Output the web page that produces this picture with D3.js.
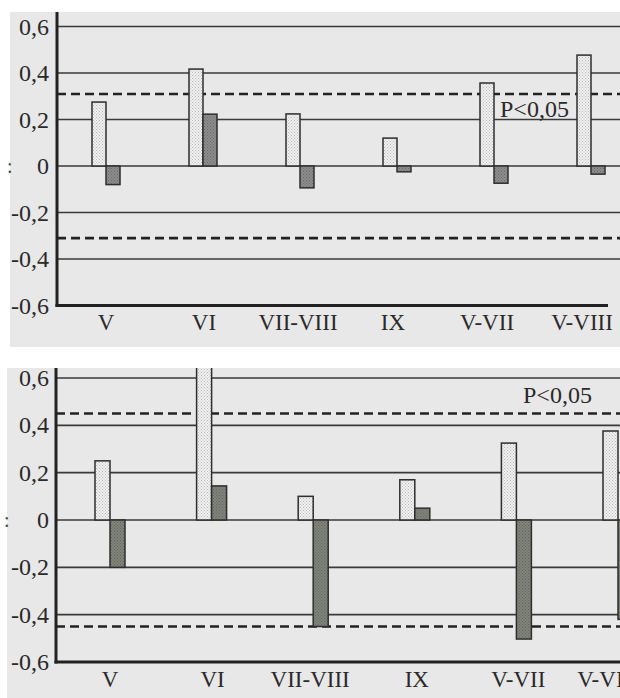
<!DOCTYPE html>
<html><head><meta charset="utf-8">
<script src="https://cdn.jsdelivr.net/npm/d3@7"></script>
<style>html,body{margin:0;padding:0;background:#fff;}svg{display:block;}</style>
</head><body>
<script>
// ---- data ----
const categories = ["V","VI","VII-VIII","IX","V-VII","V-VIII"];
const panelAFirst  = [0.275, 0.417, 0.224, 0.12, 0.357, 0.477];
const panelASecond = [-0.08, 0.223, -0.094, -0.025, -0.074, -0.035];
const panelBFirst  = [0.25, 0.70, 0.10, 0.17, 0.325, 0.376];
const panelBSecond = [-0.20, 0.144, -0.45, 0.05, -0.503, -0.42];
const thresholdA = 0.31;
const thresholdB = 0.45;
const yTicks = [-0.6, -0.4, -0.2, 0, 0.2, 0.4, 0.6];
const sigLabel = "P<0,05";

// ---- layout ----
const W = 620, H = 698;
const panels = [
  {first: panelAFirst, second: panelASecond, thr: thresholdA,
   bg: [10, 12, 620, 347], yRange: [305.5, 26.5], xRange: [57.5, 639.5], axisX: 57,
   axisEnd: 608, barW: 14, labelY: 330, labelDx: [0, 1, -2, -4, -7, -9],
   sigX: 500, sigDy: 23},
  {first: panelBFirst, second: panelBSecond, thr: thresholdB,
   bg: [7, 368, 620, 698], yRange: [662, 378], xRange: [59.2, 668.8], axisX: 56,
   axisEnd: 620, barW: 15, labelY: 687, labelDx: [0, 1, -3, 2, 2, -10],
   sigX: 523, sigDy: -11}
];

const svg = d3.select("body").append("svg").attr("width", W).attr("height", H);
const defs = svg.append("defs");
function dots(id, bg, dot, step) {
  const p = defs.append("pattern").attr("id", id).attr("patternUnits", "userSpaceOnUse")
    .attr("width", step).attr("height", step);
  p.append("rect").attr("width", step).attr("height", step).attr("fill", bg);
  p.append("rect").attr("x", 0).attr("y", 0).attr("width", 1).attr("height", 1).attr("fill", dot);
  p.append("rect").attr("x", step/2).attr("y", step/2).attr("width", 1).attr("height", 1).attr("fill", dot);
}
dots("lightDots", "#f1f1f1", "#b8b8b8", 3);
dots("darkDots0", "#8d8d8d", "#6a6a6a", 3);
dots("darkDots1", "#80837a", "#63665e", 3);

const fmt = d => d === 0 ? "0" : d.toFixed(1).replace(".", ",");
const serif = "'Liberation Serif', 'DejaVu Serif', serif";
const ink = "#2a2a2a";

panels.forEach((P, pi) => {
  const [bx0, by0, bx1, by1] = P.bg;
  const g = svg.append("g");
  defs.append("clipPath").attr("id", "clip" + pi).append("rect")
    .attr("x", bx0).attr("y", by0).attr("width", bx1 - bx0).attr("height", by1 - by0);
  g.append("rect").attr("x", bx0).attr("y", by0).attr("width", bx1 - bx0).attr("height", by1 - by0)
    .attr("fill", "#e8e8e8");

  const y = d3.scaleLinear().domain([-0.6, 0.6]).range(P.yRange);
  const x = d3.scaleBand().domain(categories).range(P.xRange);

  // gridlines
  g.selectAll(".grid").data(yTicks.filter(t => t !== -0.6)).join("line")
    .attr("x1", P.axisX).attr("x2", W).attr("y1", d => y(d)).attr("y2", d => y(d))
    .attr("stroke", "#3a3a3a").attr("stroke-width", 1.6);

  // threshold dashed lines
  g.selectAll(".thr").data([P.thr, -P.thr]).join("line")
    .attr("x1", P.axisX).attr("x2", W).attr("y1", d => y(d)).attr("y2", d => y(d))
    .attr("stroke", "#222").attr("stroke-width", 2.6).attr("stroke-dasharray", "9,5");

  const bars = g.append("g").attr("clip-path", `url(#clip${pi})`);
  const cx = c => x(c) + x.bandwidth() / 2;
  bars.selectAll(".b1").data(categories).join("rect")
    .attr("x", c => cx(c) - P.barW)
    .attr("y", (c, i) => y(Math.max(0, P.first[i])))
    .attr("width", P.barW)
    .attr("height", (c, i) => Math.abs(y(P.first[i]) - y(0)))
    .attr("fill", "url(#lightDots)").attr("stroke", "#2e2e2e").attr("stroke-width", 1.5);
  bars.selectAll(".b2").data(categories).join("rect")
    .attr("x", c => cx(c))
    .attr("y", (c, i) => y(Math.max(0, P.second[i])))
    .attr("width", P.barW)
    .attr("height", (c, i) => Math.abs(y(P.second[i]) - y(0)))
    .attr("fill", `url(#darkDots${pi})`).attr("stroke", "#2e2e2e").attr("stroke-width", 1.5);

  // axes
  g.append("line").attr("x1", P.axisX).attr("x2", P.axisX).attr("y1", by0).attr("y2", y(-0.6) + 1.5)
    .attr("stroke", "#222").attr("stroke-width", 3);
  g.append("line").attr("x1", P.axisX - 1.5).attr("x2", P.axisEnd).attr("y1", y(-0.6)).attr("y2", y(-0.6))
    .attr("stroke", "#222").attr("stroke-width", 3);

  // y tick labels
  g.selectAll(".yt").data(yTicks).join("text")
    .attr("x", 49).attr("y", d => y(d) + 8)
    .attr("text-anchor", "end").attr("font-family", serif).attr("font-size", 24)
    .attr("fill", ink).text(fmt);

  // x labels
  g.selectAll(".xt").data(categories).join("text")
    .attr("x", (c, i) => cx(c) + P.labelDx[i]).attr("y", P.labelY)
    .attr("text-anchor", "middle").attr("font-family", serif).attr("font-size", 23)
    .attr("fill", ink).text(d => d);

  // significance label
  g.append("text").attr("x", P.sigX).attr("y", y(P.thr) + P.sigDy)
    .attr("font-family", serif).attr("font-size", 24).attr("fill", ink).text(sigLabel);

  // stray mark at left edge
  g.append("text").attr("x", bx0 - 3).attr("y", y(0) + 7)
    .attr("font-family", serif).attr("font-size", 20).attr("fill", "#444").text(":");
});
</script>
</body></html>
